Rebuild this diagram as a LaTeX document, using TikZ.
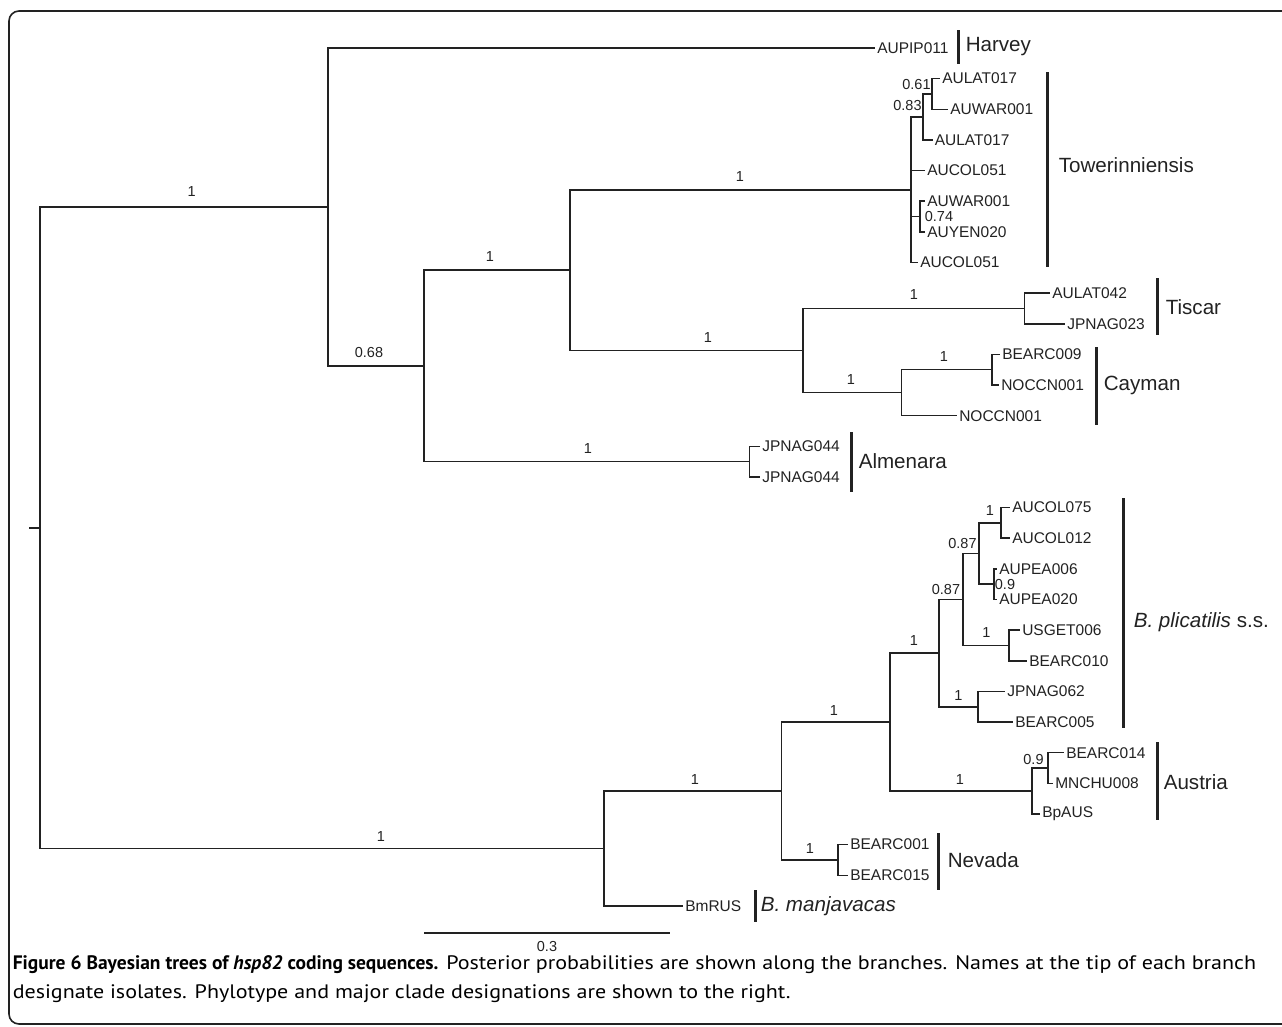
\documentclass[tikz,border=0pt]{standalone}
\usepackage{fontspec}
\setmainfont{Liberation Sans}
\newfontfamily\capfont[FakeStretch=1.13]{PT Sans}
\newfontfamily\capboldfont{PT Sans}
\definecolor{ink}{HTML}{222222}

\begin{document}
\begin{tikzpicture}[x=1pt, y=-1pt, line width=1.5pt, draw=ink, text=ink,
  tip/.style={anchor=west, inner sep=1.5pt, font=\fontsize{15.5}{16}\selectfont},
  pp/.style={inner sep=0pt, font=\fontsize{14.5}{15}\selectfont},
  bar/.style={line width=3pt},
  clade/.style={anchor=west, inner sep=0pt, font=\fontsize{20.6}{22}\selectfont},
  captext/.style={anchor=west, inner sep=0pt, text=black, font=\capfont\fontsize{19.5}{21}\selectfont}]
  \useasboundingbox (0,0) rectangle (1282,1026);
  \clip (0,0) rectangle (1282,1026);
  \draw[line width=1.6pt, rounded corners=10pt] (9,11) rectangle (1300,1024);

  % tips
  \coordinate (t1) at (875,48.0);
  \coordinate (t2) at (940,78.6);
  \coordinate (t3) at (948,109.3);
  \coordinate (t4) at (932.5,139.9);
  \coordinate (t5) at (925,170.6);
  \coordinate (t6) at (925,201.2);
  \coordinate (t7) at (925,231.8);
  \coordinate (t8) at (918,262.5);
  \coordinate (t9) at (1050,293.1);
  \coordinate (t10) at (1065,323.8);
  \coordinate (t11) at (1000,354.4);
  \coordinate (t12) at (999,385.0);
  \coordinate (t13) at (957,415.7);
  \coordinate (t14) at (760,446.3);
  \coordinate (t15) at (760,477.0);
  \coordinate (t16) at (1010,507.6);
  \coordinate (t17) at (1010,538.2);
  \coordinate (t18) at (997,568.9);
  \coordinate (t19) at (997,599.5);
  \coordinate (t20) at (1020,630.2);
  \coordinate (t21) at (1027,660.8);
  \coordinate (t22) at (1005,691.4);
  \coordinate (t23) at (1013,722.1);
  \coordinate (t24) at (1064,752.7);
  \coordinate (t25) at (1053,783.4);
  \coordinate (t26) at (1040,814.0);
  \coordinate (t27) at (848,844.6);
  \coordinate (t28) at (848,875.3);
  \coordinate (t29) at (683,905.9);

  % inner nodes
  \coordinate (stub) at (29,527.8);
  \coordinate (root) at (40,527.8);
  \coordinate (nU) at (328,207.0);
  \coordinate (nB) at (424,366.0);
  \coordinate (nC) at (570,270.2);
  \coordinate (nTow) at (911,189.8);
  \coordinate (n083) at (923,117.0);
  \coordinate (n061) at (932,94.0);
  \coordinate (n074) at (920,216.5);
  \coordinate (nTC) at (803,350.6);
  \coordinate (nTis) at (1024.5,308.5);
  \coordinate (nCay) at (901.5,392.7);
  \coordinate (nCay2) at (992,369.7);
  \coordinate (nAlm) at (749.5,461.7);
  \coordinate (nL) at (604,848.5);
  \coordinate (nG) at (781.5,791.1);
  \coordinate (nH) at (890,722.2);
  \coordinate (nI) at (939,653.2);
  \coordinate (nJ) at (963,599.6);
  \coordinate (nK) at (979,553.6);
  \coordinate (nCol) at (1001,522.9);
  \coordinate (nPea) at (994,584.2);
  \coordinate (nUsg) at (1009,645.5);
  \coordinate (nJp) at (978,706.8);
  \coordinate (nAus) at (1032,791.1);
  \coordinate (nA9) at (1048,768.1);
  \coordinate (nNev) at (838,860.0);

  % branches
  \draw (stub) -- (root);
  \draw (root) |- (nU) (root) |- (nL);
  \draw (nU) |- (t1) (nU) |- (nB);
  \draw (nB) |- (nC) (nB) |- (nAlm);
  \draw (nC) |- (nTow) (nC) |- (nTC);
  \draw (nTow) |- (n083) (nTow) |- (t5) (nTow) |- (n074) (nTow) |- (t8);
  \draw (n083) |- (n061) (n083) |- (t4);
  \draw (n061) |- (t2) (n061) |- (t3);
  \draw (n074) |- (t6) (n074) |- (t7);
  \draw (nTC) |- (nTis) (nTC) |- (nCay);
  \draw (nTis) |- (t9) (nTis) |- (t10);
  \draw (nCay) |- (nCay2) (nCay) |- (t13);
  \draw (nCay2) |- (t11) (nCay2) |- (t12);
  \draw (nAlm) |- (t14) (nAlm) |- (t15);
  \draw (nL) |- (nG) (nL) |- (t29);
  \draw (nG) |- (nH) (nG) |- (nNev);
  \draw (nH) |- (nI) (nH) |- (nAus);
  \draw (nI) |- (nJ) (nI) |- (nJp);
  \draw (nJ) |- (nK) (nJ) |- (nUsg);
  \draw (nK) |- (nCol) (nK) |- (nPea);
  \draw (nCol) |- (t16) (nCol) |- (t17);
  \draw (nPea) |- (t18) (nPea) |- (t19);
  \draw (nUsg) |- (t20) (nUsg) |- (t21);
  \draw (nJp) |- (t22) (nJp) |- (t23);
  \draw (nAus) |- (nA9) (nAus) |- (t26);
  \draw (nA9) |- (t24) (nA9) |- (t25);
  \draw (nNev) |- (t27) (nNev) |- (t28);

  % isolate names
  \node[tip] (l1) at (t1) {AUPIP011};
  \node[tip] (l2) at (t2) {AULAT017};
  \node[tip] (l3) at (t3) {AUWAR001};
  \node[tip] (l4) at (t4) {AULAT017};
  \node[tip] (l5) at (t5) {AUCOL051};
  \node[tip] (l6) at (t6) {AUWAR001};
  \node[tip] (l7) at (t7) {AUYEN020};
  \node[tip] (l8) at (t8) {AUCOL051};
  \node[tip] (l9) at (t9) {AULAT042};
  \node[tip] (l10) at (t10) {JPNAG023};
  \node[tip] (l11) at (t11) {BEARC009};
  \node[tip] (l12) at (t12) {NOCCN001};
  \node[tip] (l13) at (t13) {NOCCN001};
  \node[tip] (l14) at (t14) {JPNAG044};
  \node[tip] (l15) at (t15) {JPNAG044};
  \node[tip] (l16) at (t16) {AUCOL075};
  \node[tip] (l17) at (t17) {AUCOL012};
  \node[tip] (l18) at (t18) {AUPEA006};
  \node[tip] (l19) at (t19) {AUPEA020};
  \node[tip] (l20) at (t20) {USGET006};
  \node[tip] (l21) at (t21) {BEARC010};
  \node[tip] (l22) at (t22) {JPNAG062};
  \node[tip] (l23) at (t23) {BEARC005};
  \node[tip] (l24) at (t24) {BEARC014};
  \node[tip] (l25) at (t25) {MNCHU008};
  \node[tip] (l26) at (t26) {BpAUS};
  \node[tip] (l27) at (t27) {BEARC001};
  \node[tip] (l28) at (t28) {BEARC015};
  \node[tip] (l29) at (t29) {BmRUS};

  % posterior probabilities
  \node[pp] (p1) at (191.7,192) {1};
  \node[pp] (p2) at (369,353) {0.68};
  \node[pp] (p3) at (490,257) {1};
  \node[pp] (p4) at (740,177) {1};
  \node[pp] (p5) at (708,338) {1};
  \node[pp] (p6) at (914,295) {1};
  \node[pp] (p7) at (851,380) {1};
  \node[pp] (p8) at (944,357) {1};
  \node[pp] (p9) at (588,449) {1};
  \node[pp] (p10) at (916.5,85) {0.61};
  \node[pp] (p11) at (907.5,106) {0.83};
  \node[pp] (p12) at (939,216.5) {0.74};
  \node[pp] (p13) at (381,836) {1};
  \node[pp] (p14) at (695,779) {1};
  \node[pp] (p15) at (834,710) {1};
  \node[pp] (p16) at (914,641) {1};
  \node[pp] (p17) at (960,779) {1};
  \node[pp] (p18) at (946,589) {0.87};
  \node[pp] (p19) at (962.5,543) {0.87};
  \node[pp] (p20) at (990,511) {1};
  \node[pp] (p21) at (1005,584) {0.9};
  \node[pp] (p22) at (986.5,633) {1};
  \node[pp] (p23) at (958.5,695) {1};
  \node[pp] (p24) at (1033.5,759) {0.9};
  \node[pp] (p25) at (810,848) {1};

  % clade bars
  \draw[bar] (958,30) -- (958,64);
  \draw[bar] (1047,72) -- (1047,267);
  \draw[bar] (1157,278) -- (1157,335);
  \draw[bar] (1096,347) -- (1096,425);
  \draw[bar] (851,432) -- (851,492);
  \draw[bar] (1123,498) -- (1123,728);
  \draw[bar] (1157,742) -- (1157,820);
  \draw[bar] (938,833) -- (938,890);
  \draw[bar] (755,890) -- (755,922);
  \node[clade] (harvey) at (965,47) {Harvey};
  \node[clade] (tower) at (1058,165) {Towerinniensis};
  \node[clade] (tiscar) at (1165,307) {Tiscar};
  \node[clade] (cayman) at (1103,385) {Cayman};
  \node[clade] (almenara) at (858,461) {Almenara};
  \node[clade] (plic) at (1133,622) {\textit{B. plicatilis} s.s.};
  \node[clade] (austria) at (1163,782) {Austria};
  \node[clade] (nevada) at (947,860) {Nevada};
  \node[clade] (manja) at (760,906) {\textit{B. manjavacas}};

  % scale
  \coordinate (s0) at (424,933);
  \coordinate (s1) at (670,933);
  \draw (s0) -- (s1);
  \node[pp] (scale) at (547,946.5) {0.3};

  % caption
  \node[captext] (cap1) at (12,964.5) {{\capboldfont\bfseries Figure 6 Bayesian trees of \textit{hsp82} coding sequences.} Posterior probabilities are shown along the branches. Names at the tip of each branch};
  \node[captext] (cap2) at (12,994) {designate isolates. Phylotype and major clade designations are shown to the right.};
\end{tikzpicture}
\end{document}
